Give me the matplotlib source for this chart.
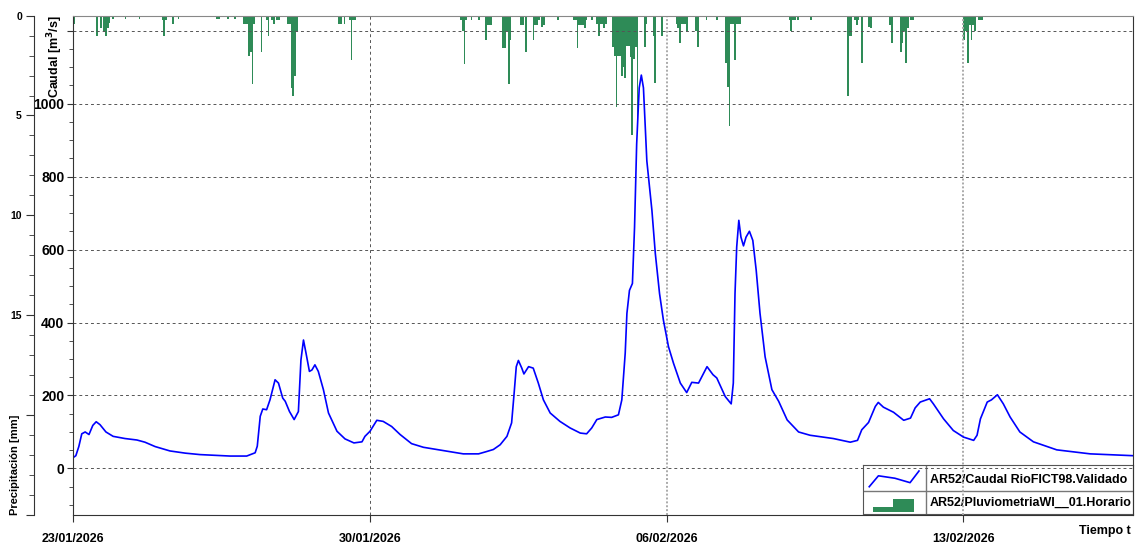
import numpy as np
import pandas as pd
import matplotlib
matplotlib.use('Agg')
from matplotlib import pyplot as plt
from matplotlib.ticker import FixedLocator, MultipleLocator, FuncFormatter

plt.rcParams['font.family'] = ['Liberation Sans', 'DejaVu Sans']
plt.rcParams['font.weight'] = 'bold'

start = pd.Timestamp('2026-01-23 00:00')

flow_day = [0.00, 0.06, 0.13, 0.20, 0.28, 0.37, 0.46, 0.54, 0.63, 0.77, 0.94, 1.22, 1.50, 1.69,
            1.93, 2.28, 2.64, 2.99, 3.70, 4.09, 4.29, 4.34, 4.41, 4.47, 4.56, 4.64, 4.76, 4.84,
            4.94, 5.00, 5.10, 5.21, 5.31, 5.37, 5.43, 5.49, 5.57, 5.63, 5.70, 5.78, 5.90, 6.02,
            6.22, 6.41, 6.62, 6.81, 6.88, 7.00, 7.16, 7.31, 7.51, 7.71, 7.98, 8.26, 8.73, 9.20,
            9.56, 9.74, 9.91, 10.07, 10.23, 10.34, 10.40, 10.45, 10.50, 10.58, 10.63, 10.74,
            10.85, 10.97, 11.09, 11.25, 11.48, 11.72, 11.96, 12.11, 12.23, 12.35, 12.55, 12.70,
            12.86, 12.94, 13.02, 13.06, 13.12, 13.19, 13.24, 13.29, 13.35, 13.40, 13.45, 13.53,
            13.65, 13.73, 13.83, 13.92, 14.04, 14.16, 14.32, 14.47, 14.59, 14.75, 14.95, 15.09,
            15.18, 15.38, 15.52, 15.57, 15.61, 15.65, 15.70, 15.75, 15.81, 15.87, 15.95, 16.03,
            16.11, 16.20, 16.32, 16.48, 16.64, 16.84, 17.11, 17.38, 17.93, 18.33, 18.50, 18.60,
            18.76, 18.92, 18.99, 19.11, 19.35, 19.59, 19.75, 19.86, 19.98, 20.20, 20.29, 20.53,
            20.76, 21.00, 21.24, 21.32, 21.40, 21.56, 21.66, 21.80, 21.94, 22.10, 22.33, 22.65,
            23.20, 23.99, 25.00]
flow_q = [30, 35, 60, 95, 100, 93, 118, 128, 120, 100, 88, 82, 78, 72,
          60, 48, 42, 38, 34, 34, 43, 61, 143, 163, 161, 188, 243, 234,
          193, 184, 156, 134, 156, 297, 352, 316, 266, 270, 284, 266, 216, 152,
          102, 81, 70, 73, 88, 102, 132, 129, 115, 93, 68, 58, 49, 40,
          40, 46, 52, 65, 88, 125, 207, 279, 296, 275, 259, 279,
          275, 234, 188, 152, 129, 111, 97, 95, 111, 134, 141, 140,
          147, 188, 316, 425, 488, 507, 661, 889, 1043, 1078, 1043, 843,
          707, 589, 479, 407, 334, 288, 234, 208, 236, 234, 279, 257,
          248, 197, 177, 234, 479, 607, 680, 634, 610, 634, 650, 625,
          543, 425, 306, 216, 184, 133, 100, 91, 82, 72, 77, 106,
          126, 170, 181, 168, 154, 132, 138, 166, 182, 191, 177, 136,
          104, 86, 77, 91, 136, 182, 188, 202, 177, 141, 100, 73,
          51, 40, 35]

# hourly precipitation (mm), hour index since 23/01/2026 00:00
rain_hour = [0, 13, 15, 17, 18, 19, 20, 22, 29, 37, 50, 51, 52, 56, 59, 81, 82, 87, 91,
             96, 97, 98, 99, 100, 101, 102, 106, 109, 110, 112, 113, 115, 116,
             121, 122, 123, 124, 125, 126, 150, 151, 153, 156, 157, 158, 159,
             219, 220, 221, 222, 225, 229, 233, 234, 235, 236, 243, 244, 245, 246, 247,
             253, 254, 256, 260, 261, 262, 263, 265, 266, 274, 283, 284, 285, 286, 287,
             288, 289, 290, 293, 296, 297, 298, 299, 300, 301, 305, 306, 307, 308, 309,
             310, 311, 312, 313, 314, 315, 316, 317, 318, 319, 323, 324, 328, 329, 333,
             341, 342, 343, 344, 345, 346, 347, 352, 353, 358, 364, 369, 370, 371, 372,
             373, 374, 375, 376, 377, 405, 406, 407, 408, 410, 417, 438, 439, 440, 442,
             443, 444, 446, 450, 451, 462, 463, 468, 469, 470, 471, 472, 474, 475,
             504, 505, 506, 507, 508, 509, 510, 512, 513, 514]
rain_mm = [0.4, 1.0, 0.6, 0.75, 1.0, 0.6, 0.35, 0.17, 0.17, 0.17, 0.22, 1.0, 0.22, 0.4, 0.17, 0.17, 0.17, 0.17, 0.17,
           0.4, 0.4, 0.4, 2.0, 1.8, 3.4, 0.4, 1.8, 0.2, 1.0, 0.2, 0.4, 0.2, 0.2,
           0.4, 0.4, 3.6, 4.0, 3.0, 0.8, 0.4, 0.4, 0.4, 0.2, 2.2, 0.2, 0.2,
           0.2, 0.75, 2.4, 0.2, 0.2, 0.2, 1.2, 0.45, 0.45, 0.45, 1.6, 1.6, 0.75, 3.4, 1.2,
           0.45, 0.45, 1.8, 1.2, 0.45, 0.45, 0.2, 0.55, 0.45, 0.2, 0.2, 0.2, 1.6, 0.45, 0.45,
           0.45, 0.6, 0.2, 0.2, 0.4, 1.0, 0.4, 0.4, 0.6, 0.4, 1.55, 2.0, 4.6, 2.0, 2.0,
           3.0, 2.55, 3.1, 1.5, 1.5, 2.05, 6.0, 2.15, 1.55, 5.2, 1.55, 0.4, 1.0, 3.35, 1.0,
           0.4, 0.6, 1.35, 0.4, 0.4, 0.4, 0.75, 0.75, 1.55, 0.2, 0.2, 2.35, 3.55, 5.55, 0.4,
           0.4, 2.2, 0.4, 0.4, 0.4, 0.2, 0.75, 0.2, 0.2, 0.2, 0.2, 4.0, 1.0, 1.0, 0.2,
           0.45, 0.2, 2.35, 0.55, 0.62, 0.45, 1.35, 1.8, 1.35, 0.75, 2.35, 0.6, 0.2, 0.2,
           1.2, 0.75, 2.35, 0.45, 1.2, 0.45, 0.75, 0.2, 0.2, 0.2]

tick_labels = ['23/01/2026', '30/01/2026', '06/02/2026', '13/02/2026']
end = pd.Timestamp('2026-02-17 00:00')

flow_t = start + pd.to_timedelta(flow_day, unit='D')
rain_t = start + pd.to_timedelta(rain_hour, unit='h')
tick_t = pd.to_datetime(tick_labels, format='%d/%m/%Y')

fig = plt.figure(figsize=(11.4, 5.46), dpi=100)
ax = fig.add_axes([0.0643, 0.0568, 0.9296, 0.9146])
ax2 = ax.twinx()

# precipitation hanging from the top
ax2.bar(rain_t, rain_mm, width=1/24, align='edge', color='#2e8b57', linewidth=0)
ax2.set_ylim(25, 0)
ax2.yaxis.tick_left()
ax2.yaxis.set_label_position('left')
ax2.spines['left'].set_position(('outward', 28))   # points -> ~38 px
ax2.spines['left'].set_color('#333333')
for s in ['right', 'top', 'bottom']:
    ax2.spines[s].set_visible(False)
ax2.yaxis.set_minor_locator(MultipleLocator(1))
ax2.set_yticks([0, 5, 10, 15, 20, 25])
ax2.set_yticklabels(['0', '5', '10', '15', '', ''])
ax2.tick_params(axis='y', which='major', length=6, pad=3, labelsize=7.5, colors='#333333', labelcolor='black')
ax2.tick_params(axis='y', which='minor', length=3.5, colors='#333333')

ax.set_zorder(ax2.get_zorder() + 1)
ax.patch.set_visible(False)

ax.plot(flow_t, flow_q, color='#0000ff', lw=1.2)
ax.set_xlim(start, end)
ax.set_ylim(-127.5, 1241)
ax.yaxis.set_major_locator(FixedLocator([0, 200, 400, 600, 800, 1000, 1200]))
ax.yaxis.set_minor_locator(MultipleLocator(50))
ax.yaxis.set_major_formatter(FuncFormatter(lambda v, p: '' if v > 1100 else '%d' % v))
ax.tick_params(axis='y', which='major', length=4.5, labelsize=10, pad=2, colors='#333333', labelcolor='black')
ax.tick_params(axis='y', which='minor', length=3, colors='#333333')

ax.set_xticks(tick_t)
ax.set_xticklabels(tick_labels)
ax.tick_params(axis='x', length=5, labelsize=9, pad=8, colors='#333333', labelcolor='black')

ax.grid(True, axis='both', color='#555555', linestyle=(0, (3, 3)), linewidth=0.7)
gl = ax.get_xgridlines()
for g in gl[2:]:
    g.set_color('#aaaaaa')
    g.set_linestyle((0, (1, 1)))
    g.set_linewidth(1.4)

ax.spines['top'].set_color('#888888')
ax.spines['right'].set_color('#333333')
ax.spines['left'].set_color('#333333')
ax.spines['bottom'].set_color('#333333')

fig.text(0.048, 0.9725, 'Caudal [m$^3$/s]', rotation=90, ha='center', va='top', fontsize=9)
fig.text(0.0135, 0.0568, 'Precipitación [mm]', rotation=90, ha='center', va='bottom', fontsize=8)
fig.text(0.9915, 0.016, 'Tiempo t', ha='right', va='bottom', fontsize=9)

# legend table
lax = fig.add_axes([0.7568, 0.0586, 0.2371, 0.0897])
lax.set_xlim(0, 1)
lax.set_ylim(0, 1)
lax.set_xticks([])
lax.set_yticks([])
for s in lax.spines.values():
    s.set_color('#555555')
lax.axvline(0.234, color='#777777', lw=1)
lax.axhline(0.475, color='#777777', lw=1)
lax.plot([0.024, 0.058, 0.119, 0.175, 0.208], [0.557, 0.78, 0.73, 0.64, 0.878], color='#0000ff', lw=1.2)
lax.fill_between([0.037, 0.111], 0.047, 0.149, color='#2e8b57', lw=0)
lax.fill_between([0.111, 0.191], 0.047, 0.306, color='#2e8b57', lw=0)
lax.text(0.249, 0.70, 'AR52/Caudal RioFICT98.Validado', va='center', fontsize=9)
lax.text(0.249, 0.23, 'AR52/PluviometriaWI__01.Horario', va='center', fontsize=9)

plt.savefig('out.png', dpi=100)
